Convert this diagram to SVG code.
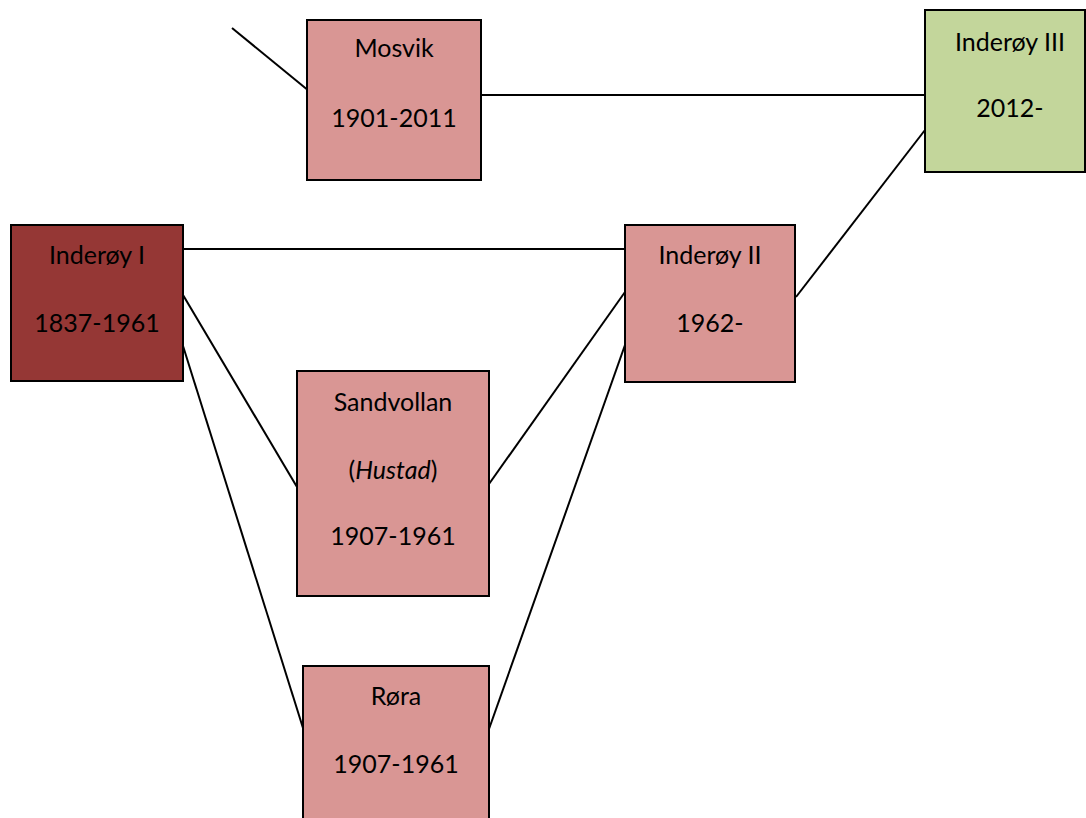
<svg xmlns="http://www.w3.org/2000/svg" width="1086" height="818" viewBox="0 0 1086 818">
<style>
.box{stroke:#000;stroke-width:2}
.pink{fill:#D99694}
.dark{fill:#953735}
.green{fill:#C3D69B}
text{font-family:Lato,"Open Sans",sans-serif;font-size:25px;fill:#000;text-anchor:middle}
.con line{stroke:#000;stroke-width:2}
</style>
<rect width="1086" height="818" fill="#fff"/>
<g class="con">
<line x1="232" y1="28" x2="309" y2="91"/>
<line x1="481" y1="95" x2="925" y2="95"/>
<line x1="925" y1="130" x2="796" y2="297"/>
<line x1="183" y1="249" x2="625" y2="249"/>
<line x1="183" y1="295" x2="297" y2="487"/>
<line x1="183" y1="346" x2="303" y2="728"/>
<line x1="489" y1="484" x2="625" y2="292"/>
<line x1="489" y1="729" x2="625" y2="345"/>
</g>
<g id="mosvik">
<rect class="box pink" x="307" y="20" width="174" height="160"/>
<text x="394" y="57">Mosvik</text>
<text x="394" y="127">1901-2011</text>
</g>
<g id="inderoy3">
<rect class="box green" x="925" y="10" width="160" height="162"/>
<text x="1010" y="51">Inderøy III</text>
<text x="1010" y="117">2012-</text>
</g>
<g id="inderoy1">
<rect class="box dark" x="11" y="225" width="172" height="156"/>
<text x="97" y="264">Inderøy I</text>
<text x="97" y="332">1837-1961</text>
</g>
<g id="inderoy2">
<rect class="box pink" x="625" y="225" width="170" height="157"/>
<text x="710" y="264">Inderøy II</text>
<text x="710" y="332">1962-</text>
</g>
<g id="sandvollan">
<rect class="box pink" x="297" y="371" width="192" height="225"/>
<text x="393" y="411">Sandvollan</text>
<text x="393" y="479">(<tspan font-style="italic">Hustad</tspan>)</text>
<text x="393" y="545">1907-1961</text>
</g>
<g id="rora">
<rect class="box pink" x="303" y="666" width="186" height="170"/>
<text x="396" y="705">Røra</text>
<text x="396" y="773">1907-1961</text>
</g>
</svg>
